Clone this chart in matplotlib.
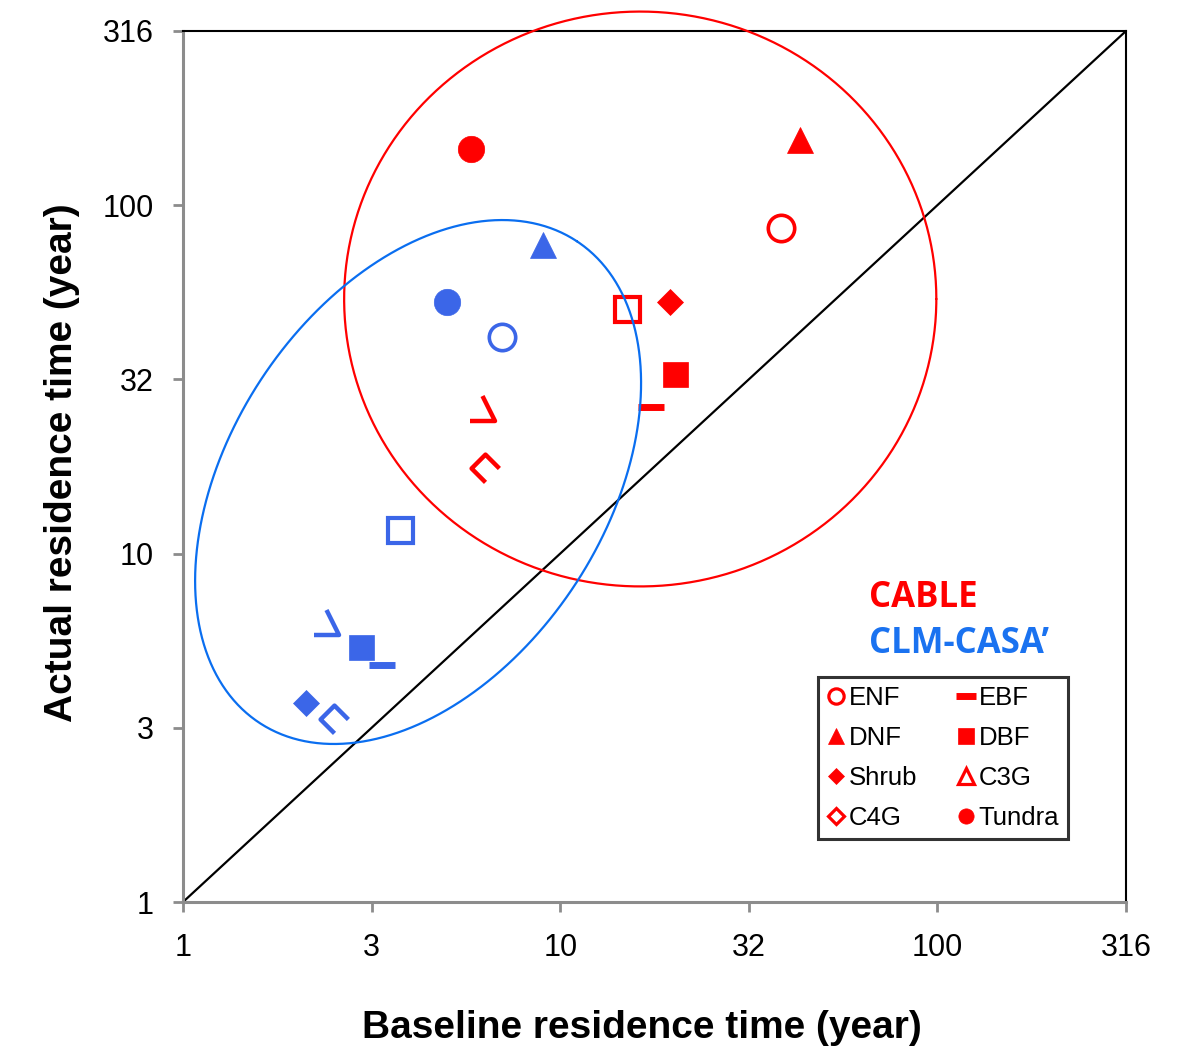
import numpy as np
import matplotlib
matplotlib.use("Agg")
import matplotlib.pyplot as plt
from matplotlib.path import Path
from matplotlib.lines import Line2D

# ---------------- data ----------------
pfts = ["ENF", "EBF", "DNF", "DBF", "Shrub", "C3G", "C4G", "Tundra", "Other"]
legend_order = ["ENF", "DNF", "Shrub", "C4G", "EBF", "DBF", "C3G", "Tundra"]

cable_baseline = [38.5, 17.4, 43.2, 20.2, 19.5, 6.2, 6.3, 5.8, 15.0]
cable_actual = [86.0, 26.4, 154.0, 32.8, 52.7, 26.2, 17.6, 145.0, 50.4]

clm_baseline = [7.0, 3.37, 9.0, 2.96, 2.12, 2.39, 2.51, 5.01, 3.76]
clm_actual = [41.8, 4.79, 76.9, 5.40, 3.73, 6.36, 3.35, 52.7, 11.7]

# ellipses in log10 space: center (data) and shape matrix (decades)
cable_ell_center = (16.3, 53.8)
cable_ell_shape = [[0.785, 0.0], [0.0, 0.825]]
clm_ell_center = (4.20, 16.05)
clm_ell_shape = [[0.421, -0.415], [0.691, 0.2965]]

ticks = [1, 10 ** 0.5, 10, 10 ** 1.5, 100, 10 ** 2.5]
tick_labels = ["1", "3", "10", "32", "100", "316"]

# ---------------- style ----------------
RED = "#FF0000"
BLUE_MK = "#3B66E8"
BLUE_ELL = "#0A6EF0"
BLUE_TXT = "#1A72F0"
GREY = "#8C8C8C"

tri_open = Path([(-1, -1), (1, -1), (0, 1)], [Path.MOVETO, Path.LINETO, Path.LINETO])
dia_open = Path([(1, 0), (0, 1), (-1, 0), (0, -1)],
                [Path.MOVETO, Path.LINETO, Path.LINETO, Path.LINETO])

mstyle = {
    "ENF": dict(marker="o", ms=19, filled=False, mew=2.6),
    "EBF": dict(marker="_", ms=19, filled=True, mew=5.0),
    "DNF": dict(marker="^", ms=19, filled=True, mew=0.5),
    "DBF": dict(marker="s", ms=18, filled=True, mew=0.5),
    "Shrub": dict(marker="D", ms=13, filled=True, mew=0.5),
    "C3G": dict(marker=tri_open, ms=18, filled=False, mew=3.2),
    "C4G": dict(marker=dia_open, ms=20, filled=False, mew=3.2),
    "Tundra": dict(marker="o", ms=19, filled=True, mew=0.5),
    "Other": dict(marker="s", ms=18, filled=False, mew=3.0),
}

leg_style = {
    "ENF": dict(marker="o", ms=11, filled=False, mew=2.3),
    "EBF": dict(marker="_", ms=15, filled=True, mew=5.0),
    "DNF": dict(marker="^", ms=11, filled=True, mew=0.5),
    "DBF": dict(marker="s", ms=11, filled=True, mew=0.5),
    "Shrub": dict(marker="D", ms=8, filled=True, mew=0.5),
    "C3G": dict(marker="^", ms=11, filled=False, mew=2.3),
    "C4G": dict(marker="D", ms=8, filled=False, mew=2.3),
    "Tundra": dict(marker="o", ms=11, filled=True, mew=0.5),
}

plt.rcParams["font.family"] = ["Liberation Sans", "DejaVu Sans"]

fig = plt.figure(figsize=(11.82, 10.59), dpi=100)
ax = fig.add_axes([183 / 1182, 1 - 902 / 1059, (1126 - 183) / 1182, (902 - 31) / 1059])
ax.set_xscale("log")
ax.set_yscale("log")
ax.set_xlim(1, 10 ** 2.5)
ax.set_ylim(1, 10 ** 2.5)

# 1:1 line
ax.plot([1, 10 ** 2.5], [1, 10 ** 2.5], color="black", lw=1.6, zorder=2)

def draw_points(xs, ys, color):
    for name, x, y in zip(pfts, xs, ys):
        st = mstyle[name]
        ax.plot([x], [y], ls="none", marker=st["marker"], ms=st["ms"],
                mec=color, mfc=color if st["filled"] else "none",
                mew=st["mew"], zorder=3, clip_on=False)

draw_points(cable_baseline, cable_actual, RED)
draw_points(clm_baseline, clm_actual, BLUE_MK)

t = np.linspace(0, 2 * np.pi, 400)

def draw_ellipse(center, shape, color):
    m = np.array(shape)
    lx = np.log10(center[0]) + m[0, 0] * np.cos(t) + m[0, 1] * np.sin(t)
    ly = np.log10(center[1]) + m[1, 0] * np.cos(t) + m[1, 1] * np.sin(t)
    ax.plot(10 ** lx, 10 ** ly, color=color, lw=1.6, zorder=4, clip_on=False,
            solid_joinstyle="round", solid_capstyle="round")

draw_ellipse(cable_ell_center, cable_ell_shape, RED)
draw_ellipse(clm_ell_center, clm_ell_shape, BLUE_ELL)

# axes styling
ax.set_xticks(ticks)
ax.set_xticklabels(tick_labels)
ax.set_yticks(ticks)
ax.set_yticklabels(tick_labels)
ax.minorticks_off()
ax.tick_params(axis="both", which="major", direction="out", length=7, width=2.0,
               color=GREY, labelsize=22)
ax.tick_params(axis="x", pad=15)
ax.tick_params(axis="y", pad=14)
for s in ["left", "bottom"]:
    ax.spines[s].set_color(GREY)
    ax.spines[s].set_linewidth(2.2)
for s in ["top", "right"]:
    ax.spines[s].set_color("black")
    ax.spines[s].set_linewidth(1.5)

ax.set_xlabel("Baseline residence time (year)", fontsize=28, fontweight="bold", va="center")
ax.xaxis.set_label_coords((642 - 183) / 943, (902 - 1028) / 871)
ax.set_ylabel("Actual residence time (year)", fontsize=28, fontweight="bold", va="center")
ax.yaxis.set_label_coords((62 - 183) / 943, (902 - 463) / 871)

# model labels
ax.text((869 - 183) / 943, (902 - 598) / 871, "CABLE", transform=ax.transAxes,
        color=RED, fontsize=25, fontweight="bold", family=["Open Sans", "DejaVu Sans"],
        ha="left", va="center")
ax.text((869 - 183) / 943, (902 - 644) / 871, "CLM-CASA\u2019", transform=ax.transAxes,
        color=BLUE_TXT, fontsize=25, fontweight="bold", family=["Open Sans", "DejaVu Sans"],
        ha="left", va="center")

# legend
handles = []
for name in legend_order:
    st = leg_style[name]
    h = Line2D([], [], ls="none", marker=st["marker"], ms=st["ms"], mec=RED,
               mfc=RED if st["filled"] else "none", mew=st["mew"])
    handles.append(h)
leg = ax.legend(handles, legend_order, ncol=2, loc="upper left",
                bbox_to_anchor=((818 - 183) / 943, (902 - 838) / 871,
                                (1068 - 818) / 943, (838 - 677) / 871),
                mode="expand", borderaxespad=0, fontsize=18.5, frameon=True,
                fancybox=False, edgecolor="black", handlelength=0.7,
                handletextpad=0.15, labelspacing=0.62, borderpad=0.35,
                columnspacing=0.6)
leg.get_frame().set_linewidth(2.2)
leg.set_zorder(5)

fig.savefig("out.png", dpi=100)
